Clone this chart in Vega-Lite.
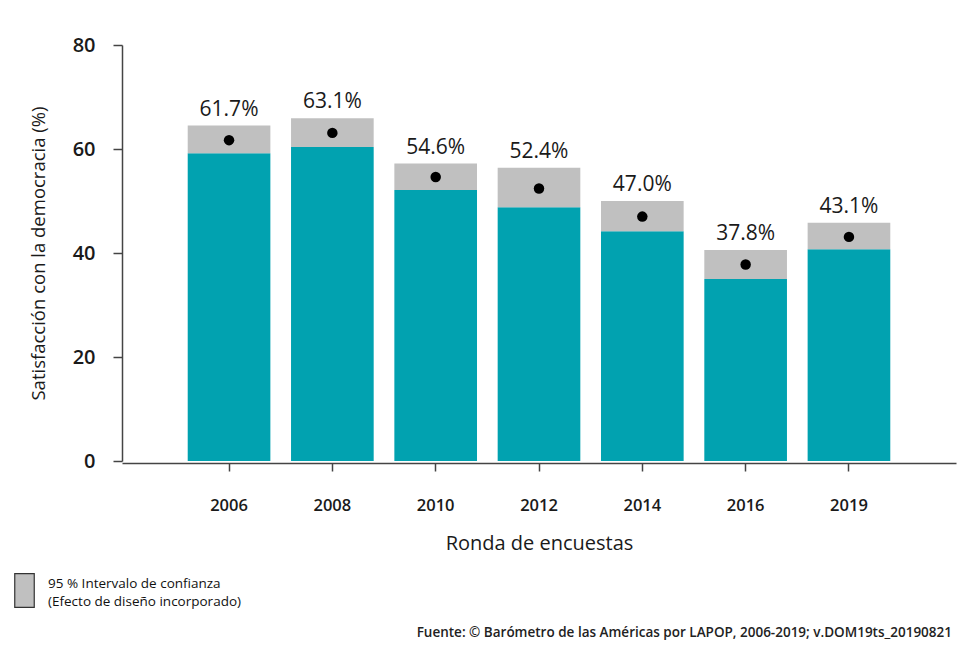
{
  "$schema": "https://vega.github.io/schema/vega-lite/v6.json",
  "width": 834,
  "height": 416,
  "autosize": {"type": "none"},
  "padding": {"left": 122, "top": 45, "right": 4, "bottom": 188},
  "background": "white",
  "config": {
    "font": "Open Sans",
    "view": {"stroke": null},
    "style": {"guide-label": {"lineHeight": 18}}
  },
  "title": {
    "text": "Fuente: © Barómetro de las Américas por LAPOP, 2006-2019; v.DOM19ts_20190821",
    "orient": "bottom",
    "anchor": "end",
    "fontSize": 13.5,
    "fontWeight": 600,
    "color": "#222",
    "offset": 16,
    "dx": -4
  },
  "data": {
    "values": [
      {"year": "2006", "mean": 61.7, "lo": 59.2, "hi": 64.5},
      {"year": "2008", "mean": 63.1, "lo": 60.4, "hi": 65.9},
      {"year": "2010", "mean": 54.6, "lo": 52.1, "hi": 57.2},
      {"year": "2012", "mean": 52.4, "lo": 48.8, "hi": 56.4},
      {"year": "2014", "mean": 47.0, "lo": 44.2, "hi": 50.0},
      {"year": "2016", "mean": 37.8, "lo": 35.0, "hi": 40.6},
      {"year": "2019", "mean": 43.1, "lo": 40.7, "hi": 45.8}
    ]
  },
  "encoding": {
    "x": {
      "field": "year",
      "type": "ordinal",
      "scale": {"paddingInner": 0.2, "paddingOuter": 0.636},
      "axis": {
        "title": "Ronda de encuestas",
        "titleFontSize": 20,
        "titleFontWeight": 500,
        "titleColor": "#1a1a1a",
        "titlePadding": 20,
        "labelAngle": 0,
        "labelFontSize": 16.5,
        "labelFontWeight": 600,
        "labelColor": "#1a1a1a",
        "labelPadding": 26,
        "tickSize": 8,
        "tickColor": "#444",
        "domainColor": "#444",
        "domainWidth": 1.5,
        "tickWidth": 1.5,
        "offset": 2
      }
    }
  },
  "layer": [
    {
      "mark": {"type": "bar", "color": "#01a2b0"},
      "encoding": {
        "y": {
          "field": "lo",
          "type": "quantitative",
          "scale": {"domain": [0, 80]},
          "axis": {
            "title": "Satisfacción con la democracia (%)",
            "titleFontSize": 18.5,
            "titleFontWeight": 500,
            "titleColor": "#1a1a1a",
            "titlePadding": 24,
            "values": [0, 20, 40, 60, 80],
            "grid": false,
            "labelFontSize": 20,
            "labelFontWeight": 600,
            "labelColor": "#1a1a1a",
            "labelPadding": 18,
            "tickSize": 9,
            "tickColor": "#444",
            "domainColor": "#444",
            "domainWidth": 1.5,
            "tickWidth": 1.5
          }
        }
      }
    },
    {
      "mark": {"type": "bar"},
      "encoding": {
        "y": {"field": "lo", "type": "quantitative"},
        "y2": {"field": "hi"},
        "color": {
          "datum": "95 % Intervalo de confianza",
          "type": "nominal",
          "scale": {"range": ["#c0c0c0"]},
          "legend": {
            "title": null,
            "orient": "none",
            "legendX": -115,
            "legendY": 528,
            "symbolType": "M-0.58,-1H0.58V1H-0.58Z",
            "symbolSize": 1130,
            "symbolStrokeColor": "#333",
            "symbolStrokeWidth": 1.2,
            "symbolOpacity": 1,
            "labelFontSize": 13.5,
            "labelColor": "#111",
            "labelOffset": 6,
            "labelLimit": 400,
            "labelBaseline": "bottom",
            "labelExpr": "['95 % Intervalo de confianza', '(Efecto de diseño incorporado)']"
          }
        }
      }
    },
    {
      "mark": {"type": "point", "filled": true, "color": "black", "size": 110, "opacity": 1},
      "encoding": {
        "y": {"field": "mean", "type": "quantitative"}
      }
    },
    {
      "mark": {
        "type": "text",
        "baseline": "alphabetic",
        "dy": -10,
        "fontSize": 21,
        "fontWeight": 500,
        "color": "#1a1a1a",
        "text": {"expr": "format(datum.mean, '.1f') + '%'"}
      },
      "encoding": {
        "y": {"field": "hi", "type": "quantitative"}
      }
    }
  ]
}
